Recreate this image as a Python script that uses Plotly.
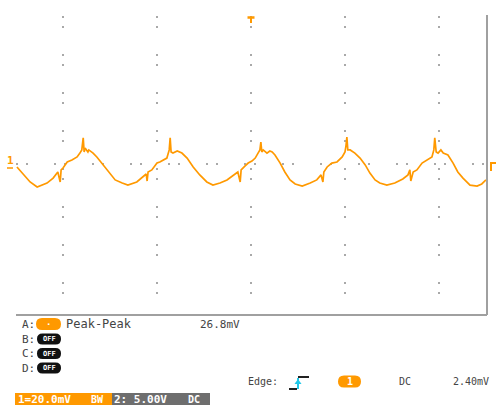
import plotly.graph_objects as go

# Channel 1 record: time in microseconds (10 us/div, trigger at 0), voltage in mV
time_us = [
    -49.8, -48.7, -48.1, -47.0, -45.5, -44.5, -43.4, -42.1, -41.1, -40.6,
    -40.4, -40.0, -39.1, -38.1, -37.0, -36.4, -36.0, -35.7, -35.5, -35.3,
    -34.7, -34.5, -33.6, -32.8, -31.5, -30.0, -28.9, -27.4, -26.2, -24.3,
    -23.0, -22.3, -22.1, -21.9, -21.1, -20.4, -20.0, -19.4, -17.9, -17.4,
    -17.2, -17.0, -16.6, -15.7, -14.7, -13.6, -12.3, -10.9, -9.4, -8.1,
    -6.6, -5.1, -3.8, -2.8, -2.3, -2.1, -1.3, -0.6, 0.2, 0.9,
    1.5, 1.9, 2.1, 2.3, 2.6, 3.4, 4.0, 4.5, 5.1, 6.2,
    7.2, 8.3, 9.4, 10.9, 12.6, 14.0, 14.9, 15.3, 15.5, 16.2,
    17.2, 18.3, 19.4, 20.0, 20.2, 20.4, 20.6, 21.1, 22.1, 23.2,
    24.3, 25.3, 26.4, 27.4, 28.9, 30.6, 32.3, 33.4, 33.8, 34.0,
    34.5, 35.3, 36.4, 37.4, 38.5, 38.9, 39.1, 39.4, 39.8, 40.4,
    40.9, 41.9, 43.0, 44.0, 45.1, 46.6, 48.1, 49.1, 50.0,
]
ch1_mv = [
    -1.6, -4.9, -7.0, -9.7, -12.4, -11.4, -10.3, -7.6, -4.3, -9.7,
    -3.2, -2.2, 1.1, 2.2, 3.8, 5.9, 7.6, 14.1, 6.5, 8.6,
    6.5, 7.6, 5.9, 3.8, -0.5, -4.9, -8.6, -10.3, -11.4, -9.7,
    -7.0, -5.4, -9.2, -4.3, -3.2, -1.1, 0.5, 1.1, 3.2, 7.6,
    14.1, 6.5, 5.9, 7.0, 5.9, 3.2, -1.6, -5.9, -9.7, -11.4,
    -10.3, -8.6, -5.9, -4.3, -9.7, -3.2, -1.1, 0.5, 1.6, 3.2,
    5.9, 7.6, 11.9, 6.5, 7.6, 5.9, 7.0, 6.5, 4.9, 0.5,
    -4.3, -8.6, -10.8, -11.9, -10.3, -8.6, -5.9, -9.7, -4.3, -1.6,
    0.5, 1.1, 3.8, 6.5, 9.7, 14.6, 7.6, 7.6, 5.9, 3.2,
    -0.5, -4.9, -8.6, -10.3, -11.4, -10.3, -8.1, -5.9, -3.2, -9.2,
    -4.3, -3.2, 0.5, 2.2, 3.8, 7.6, 14.1, 6.5, 5.9, 7.6,
    5.9, 4.9, 0.5, -4.3, -7.6, -11.4, -11.9, -10.8, -8.6,
]

grid_times = [-40, -20, 0, 20, 40]
grid_volts = [0]

measure_name = "Peak-Peak"
measure_value = "26.8mV"
status_ch1 = ["1=20.0mV", "BW"]
status_ch2 = ["2: 5.00V", "DC"]
trigger_info = ["Edge:", "DC", "2.40mV"]

ORANGE = "#FF9900"
GRID = "#A9A9A9"
FRAME = "#A0A0A0"
TEXT = "#444444"
MONO = "DejaVu Sans Mono"

W, H = 496, 409
ML, MR, MT, MB = 16, 10, 16, 97
PW, PH = W - ML - MR, H - MT - MB


def px(x, y):
    """Screen pixel -> paper coordinates."""
    return (x - ML) / PW, (H - MB - y) / PH


fig = go.Figure()
fig.add_trace(go.Scatter(
    x=time_us, y=ch1_mv, mode="lines",
    line=dict(color=ORANGE, width=1.7),
    hoverinfo="skip", showlegend=False,
))

shapes = []
annotations = []


def line(x0, y0, x1, y1, color, width):
    a, b = px(x0, y0)
    c, d = px(x1, y1)
    shapes.append(dict(type="line", xref="paper", yref="paper", x0=a, y0=b, x1=c, y1=d,
                       line=dict(color=color, width=width)))


def rect(x0, y0, x1, y1, color):
    a, b = px(x0, y0)
    c, d = px(x1, y1)
    shapes.append(dict(type="rect", xref="paper", yref="paper", x0=a, y0=b, x1=c, y1=d,
                       fillcolor=color, line=dict(width=0), layer="above"))


def pill(x0, y0, x1, y1, color):
    r = (y1 - y0) / 2
    pts = [
        ("M", [(x0 + r, y0)]), ("L", [(x1 - r, y0)]),
        ("Q", [(x1, y0), (x1, y0 + r)]), ("Q", [(x1, y1), (x1 - r, y1)]),
        ("L", [(x0 + r, y1)]), ("Q", [(x0, y1), (x0, y0 + r)]),
        ("Q", [(x0, y0), (x0 + r, y0)]),
    ]
    path = ""
    for cmd, ps in pts:
        path += cmd + " ".join("%.5f,%.5f" % px(a, b) for a, b in ps) + " "
    shapes.append(dict(type="path", xref="paper", yref="paper", path=path + "Z",
                       fillcolor=color, line=dict(width=0), layer="above"))


def text(x, y, s, size=11, color=TEXT, anchor="left", bold=False):
    a, b = px(x, y)
    annotations.append(dict(
        xref="paper", yref="paper", x=a, y=b, text=("<b>%s</b>" % s) if bold else s,
        showarrow=False, xanchor=anchor, yanchor="middle",
        font=dict(family=MONO, size=size, color=color),
    ))


# screen frame (right edge and bottom edge)
line(487, 15, 487, 315, FRAME, 2)
line(16, 315, 487, 315, FRAME, 2)

# channel markers
text(10, 160, "1", size=11, color=ORANGE, anchor="center", bold=True)
line(7, 168, 13, 168, ORANGE, 1.5)
line(247.5, 17.5, 254.5, 17.5, ORANGE, 2.5)
line(251, 17.5, 251, 23, ORANGE, 2)
line(490, 163, 496, 163, ORANGE, 2)
line(491, 163, 491, 171, ORANGE, 2)

# measurement rows
text(20, 324, "A:", size=11)
pill(36, 318, 61, 330, ORANGE)
text(48.5, 324, "·", size=9, color="white", anchor="center", bold=True)
text(64, 324, measure_name, size=12)
text(198, 324, measure_value, size=11)
for i, ch in enumerate(["B:", "C:", "D:"]):
    yc = 339 + 14.5 * i
    text(20, yc, ch, size=11)
    pill(37, yc - 5.5, 61, yc + 5.5, "#111111")
    text(49, yc, "OFF", size=7, color="white", anchor="center", bold=True)

# status bar
rect(15, 393, 112, 405, ORANGE)
rect(112, 393, 210, 405, "#6E6E6E")
text(16, 399, status_ch1[0], size=11, color="white", bold=True)
text(89, 399, status_ch1[1], size=10, color="white", bold=True)
text(112, 399, status_ch2[0], size=11, color="white", bold=True)
text(186, 399, status_ch2[1], size=10, color="white", bold=True)

# trigger info row
text(246, 381, trigger_info[0], size=10)
line(289, 389, 297, 389, "#222222", 2)
line(298, 377, 309, 377, "#222222", 2)
line(298, 389, 298, 378, "#22C8E8", 2)
a0, b0 = px(294.5, 384)
a1, b1 = px(301.5, 384)
a2, b2 = px(298, 379)
shapes.append(dict(type="path", xref="paper", yref="paper",
                   path="M%.5f,%.5f L%.5f,%.5f L%.5f,%.5f Z" % (a0, b0, a1, b1, a2, b2),
                   fillcolor="#22C8E8", line=dict(width=0), layer="above"))
pill(338, 375.5, 361, 387.5, ORANGE)
text(349.5, 381.5, "1", size=10, color="white", anchor="center", bold=True)
text(397, 381, trigger_info[1], size=10)
text(451, 381, trigger_info[2], size=10)

fig.update_layout(
    width=W, height=H,
    margin=dict(l=ML, r=MR, t=MT, b=MB, pad=0),
    paper_bgcolor="white", plot_bgcolor="white",
    showlegend=False,
    shapes=shapes, annotations=annotations,
    xaxis=dict(range=[-50, 50], tickvals=grid_times, showticklabels=False,
               showgrid=True, gridcolor=GRID, gridwidth=2, griddash="2px,8px,2px,26px",
               zeroline=False, showline=False, ticks="", fixedrange=True),
    yaxis=dict(range=[-80, 80], tickvals=grid_volts, showticklabels=False,
               showgrid=True, gridcolor=GRID, gridwidth=2, griddash="2px,8px,2px,26px",
               zeroline=False, showline=False, ticks="", fixedrange=True),
)

fig.write_html("out.html")
